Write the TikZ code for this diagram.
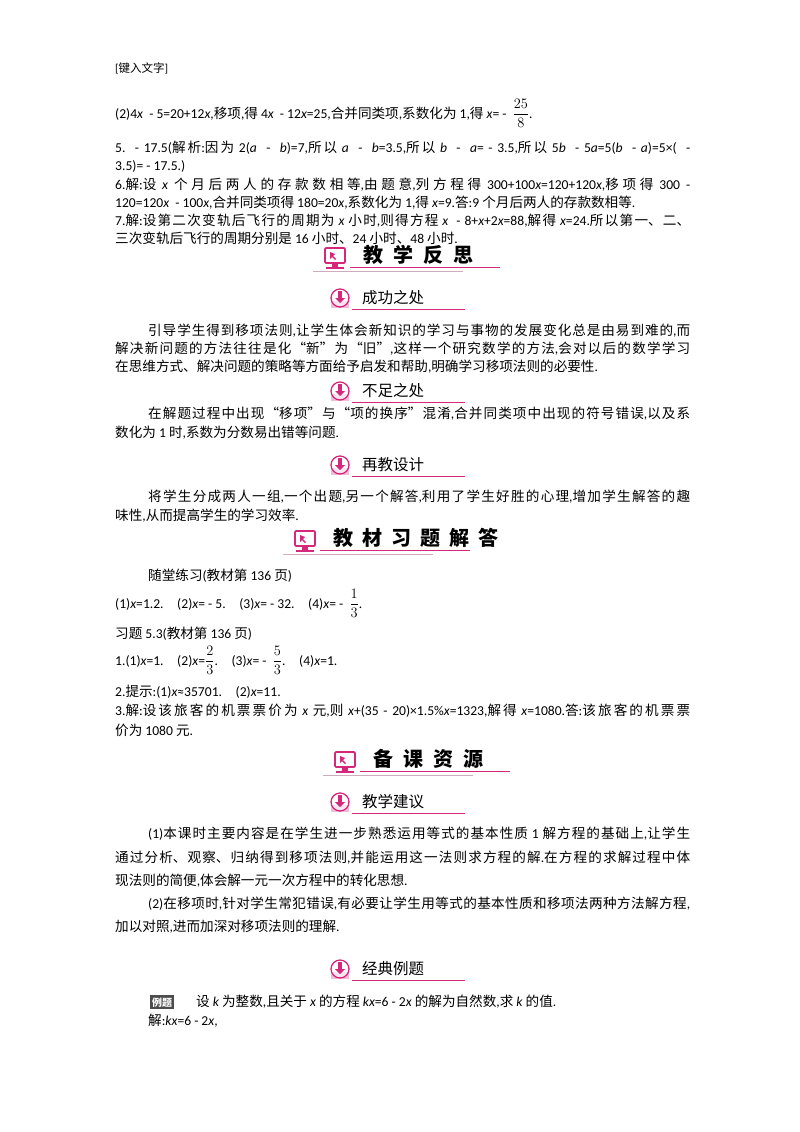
\documentclass[tikz,border=0pt]{standalone}
\usepackage{amsmath}
\usepackage{fontspec}
\setmainfont{Carlito}
\newfontfamily\cjkf{Noto Sans CJK SC}
\newfontfamily\latf{Carlito}
\XeTeXlinebreaklocale "zh"
\XeTeXlinebreakskip=0pt plus 2pt
\XeTeXinterchartokenstate=1
\newXeTeXintercharclass\CJKcls
\count255="4E00 \loop\XeTeXcharclass\count255=\CJKcls\advance\count255 by 1 \ifnum\count255<"A000 \repeat
\count255="3000 \loop\XeTeXcharclass\count255=\CJKcls\advance\count255 by 1 \ifnum\count255<"3040 \repeat
\count255="FF00 \loop\XeTeXcharclass\count255=\CJKcls\advance\count255 by 1 \ifnum\count255<"FFF0 \repeat
\XeTeXcharclass"201C=\CJKcls \XeTeXcharclass"201D=\CJKcls
\XeTeXinterchartoks 0 \CJKcls = {\cjkf}
\XeTeXinterchartoks 4095 \CJKcls = {\cjkf}
\XeTeXinterchartoks \CJKcls 0 = {\latf}
\XeTeXinterchartoks 4095 0 = {\latf}
\definecolor{pk}{RGB}{214,40,122}
\definecolor{lpk}{RGB}{240,190,215}
\newcommand{\iv}[1]{{\latf\XeTeXinterchartokenstate=0 \itshape #1}}
\newcommand{\xx}{\iv{x}}
\newcommand{\nofill}{\parfillskip=0pt\relax}
\newcommand{\fr}[2]{{\fontsize{15}{17}\selectfont$\displaystyle\frac{#1}{#2}$}}
\tikzset{txt/.style={anchor=base west,inner sep=0pt,font=\fontsize{13.6}{15}\selectfont},
 jl/.style={txt,text width=575pt,align=justify,execute at begin node=\nofill},
 jm/.style={txt,text width=542pt,align=justify,execute at begin node=\nofill},
 hdr/.style={anchor=base west,inner sep=0pt,font=\fontsize{20}{22}\selectfont\bfseries},
 sub/.style={anchor=base west,inner sep=0pt,font=\fontsize{15.5}{17}\selectfont}}
\newcommand{\bighead}[4]{% name, icon x, y baseline, text
 \begin{scope}[shift={(#2,#3)}]
  \draw[pk,line width=1.6pt,fill=white,rounded corners=1pt] (-10,-14) rectangle (10,1);
  \fill[pk] (-3,1) rectangle (3,5); \fill[pk] (-9,5) rectangle (9,7);
  \fill[pk] (-5,-10) -- (-5,-3) -- (-3,-5) -- (0,-2) -- (1,-3) -- (-2,-6) -- (0,-8) -- cycle;
  \draw[pk,line width=0.8pt] (15,5) -- (165,5);
  \draw[lpk!70!gray,line width=0.6pt] (-22,9) -- (128,9);
 \end{scope}
 \node[hdr] (#1) at (#2+28,#3) {#4};}
\newcommand{\subhead}[4]{%
 \begin{scope}[shift={(#2,#3)}]
  \fill[lpk] (-9,-2) -- (9,-2) -- (9,5) -- (-9,5) -- cycle;
  \draw[pk,line width=1.3pt,fill=white,fill opacity=0.6] (0,-5) circle (9);
  \fill[pk] (-2,-12) rectangle (2,-5); \fill[pk] (-5,-5) -- (5,-5) -- (0,0) -- cycle;
  \draw[pk,line width=0.8pt] (12,6) -- (125,6);
 \end{scope}
 \node[sub] (#1) at (#2+22,#3) {#4};}
\begin{document}
\begin{tikzpicture}[x=1pt,y=-1pt]
\useasboundingbox (0,0) rectangle (800,1132);
\node[txt,font=\fontsize{11.5}{13}\selectfont] (hd) at (115,72) {[键入文字]};
\node[txt] (a1) at (115,118) {(2)4\xx\ \ - 5=20+12\xx,移项,得 4\xx\ \ - 12\xx=25,合并同类项,系数化为 1,得 \xx= -\ \ \fr{25}{8}.};
\node[jl] (a2) at (115,152) {5.\ \ - 17.5(解析:因为 2(\iv{a}\ \ -\ \ \iv{b})=7,所以 \iv{a}\ \ -\ \ \iv{b}=3.5,所以 \iv{b}\ \ -\ \ \iv{a}= - 3.5,所以 5\iv{b}\ \ - 5\iv{a}=5(\iv{b}\ \ - \iv{a})=5×(\ \ -};
\node[txt] (a3) at (115,170) {3.5)= - 17.5.)};
\node[jl] (a4) at (115,189) {6.解:设 \xx\ 个月后两人的存款数相等,由题意,列方程得 300+100\xx=120+120\xx,移项得 300 -};
\node[txt] (a5) at (115,207) {120=120\xx\ \ - 100\xx,合并同类项得 180=20\xx,系数化为 1,得 \xx=9.答:9 个月后两人的存款数相等.};
\node[jl] (a6) at (115,225) {7.解:设第二次变轨后飞行的周期为 \xx\ 小时,则得方程 \xx\ \ - 8+\xx+2\xx=88,解得 \xx=24.所以第一、二、};
\node[txt] (a7) at (115,243) {三次变轨后飞行的周期分别是 16 小时、24 小时、48 小时.};
\bighead{h1}{335}{262}{教\hspace{0.5em}学\hspace{0.5em}反\hspace{0.5em}思}
\subhead{s1}{340}{303}{成功之处}
\node[jm] (b1) at (148,335) {引导学生得到移项法则,让学生体会新知识的学习与事物的发展变化总是由易到难的,而};
\node[jl] (b2) at (115,353) {解决新问题的方法往往是化“新”为“旧”,这样一个研究数学的方法,会对以后的数学学习};
\node[txt] (b3) at (115,371) {在思维方式、解决问题的策略等方面给予启发和帮助,明确学习移项法则的必要性.};
\subhead{s2}{340}{396}{不足之处}
\node[jm] (c1) at (148,418) {在解题过程中出现“移项”与“项的换序”混淆,合并同类项中出现的符号错误,以及系};
\node[txt] (c2) at (115,437) {数化为 1 时,系数为分数易出错等问题.};
\subhead{s3}{340}{470}{再教设计}
\node[jm] (d1) at (148,501) {将学生分成两人一组,一个出题,另一个解答,利用了学生好胜的心理,增加学生解答的趣};
\node[txt] (d2) at (115,520) {味性,从而提高学生的学习效率.};
\bighead{h2}{305}{545}{教\hspace{0.45em}材\hspace{0.45em}习\hspace{0.45em}题\hspace{0.45em}解\hspace{0.45em}答}
\node[txt] (e1) at (148,580) {随堂练习(教材第 136 页)};
\node[txt] (e2) at (115,608) {(1)\xx=1.2.\quad (2)\xx= - 5.\quad (3)\xx= - 32.\quad (4)\xx= -\ \ \fr{1}{3}.};
\node[txt] (e3) at (115,638) {习题 5.3(教材第 136 页)};
\node[txt] (e4) at (115,665) {1.(1)\xx=1.\quad (2)\xx=\fr{2}{3}.\quad (3)\xx= -\ \ \fr{5}{3}.\quad (4)\xx=1.};
\node[txt] (e5) at (115,696) {2.提示:(1)\xx≈35701.\quad (2)\xx=11.};
\node[jl] (e6) at (115,715) {3.解:设该旅客的机票票价为 \xx\ 元,则 \xx+(35 - 20)×1.5\%\xx=1323,解得 \xx=1080.答:该旅客的机票票};
\node[txt] (e7) at (115,735) {价为 1080 元.};
\bighead{h3}{345}{766}{备\hspace{0.5em}课\hspace{0.5em}资\hspace{0.5em}源}
\subhead{s4}{340}{807}{教学建议}
\node[jm] (f1) at (148,838) {(1)本课时主要内容是在学生进一步熟悉运用等式的基本性质 1 解方程的基础上,让学生};
\node[jl] (f2) at (115,862) {通过分析、观察、归纳得到移项法则,并能运用这一法则求方程的解.在方程的求解过程中体};
\node[txt] (f3) at (115,885) {现法则的简便,体会解一元一次方程中的转化思想.};
\node[jm] (f4) at (148,908) {(2)在移项时,针对学生常犯错误,有必要让学生用等式的基本性质和移项法两种方法解方程,};
\node[txt] (f5) at (115,931) {加以对照,进而加深对移项法则的理解.};
\subhead{s5}{340}{974}{经典例题}
\node[fill=black!70,text=white,inner sep=2pt,font=\fontsize{10}{11}\selectfont\bfseries,anchor=base west] (g0) at (150,1006) {例题};
\node[txt] (g1) at (196,1006) {设 \iv{k} 为整数,且关于 \xx\ 的方程 \iv{k}\xx=6 - 2\xx\ 的解为自然数,求 \iv{k} 的值.};
\node[txt] (g2) at (148,1025) {解:\iv{k}\xx=6 - 2\xx,};
\end{tikzpicture}
\end{document}
